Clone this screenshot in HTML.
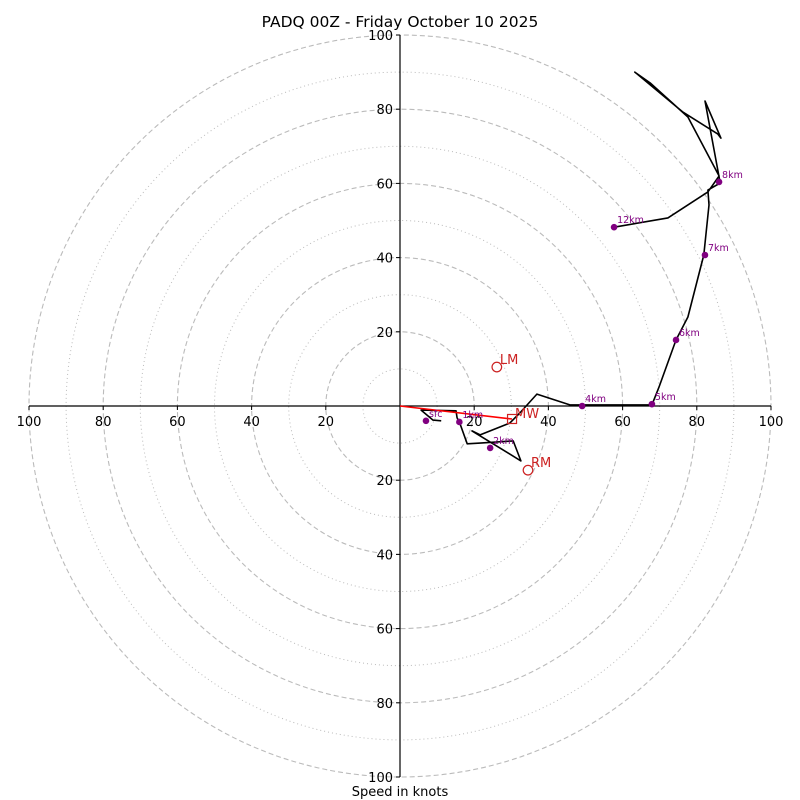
<!DOCTYPE html>
<html><head><meta charset="utf-8"><style>
body{margin:0;background:#fff}
svg{display:block;font-family:"DejaVu Sans","Liberation Sans",sans-serif}
</style></head><body>
<svg id="chart" width="800" height="800" viewBox="0 0 800 800">
<rect width="800" height="800" fill="#fff"/>
<text x="400" y="27" font-size="15.5" text-anchor="middle">PADQ 00Z - Friday October 10 2025</text>
<text x="400" y="796" font-size="13" text-anchor="middle">Speed in knots</text>
<g id="rings"></g><g id="axes"></g><g id="series"></g><g id="marks"></g>
</svg>
<script>
const ringValues=[10,20,30,40,50,60,70,80,90,100];
const tickValues=[20,40,60,80,100];
const pathU=[11.1,8.9,5.7,15.1,15.4,16.0,18.1,21.6,30.5,32.6,19.4,21.6,29.6,32.3,36.9,39.9,45.8,67.9,69.8,74.4,77.6,81.9,83.3,83.0,86.3,82.2,86.5,85.7,76.3,63.3,67.4,77.6,86.0,83.0,72.2,57.7];
const pathV=[-4.0,-3.8,-1.1,-1.3,-3.2,-4.3,-10.2,-10.0,-9.4,-14.8,-6.7,-7.8,-4.6,-1.9,3.2,2.2,0.3,0.3,5.1,17.8,24.0,40.7,54.2,58.2,60.1,82.2,72.2,73.3,79.2,90.0,87.1,77.9,62.0,57.7,50.7,48.2];
const levelLabels=["sfc","1km","2km","4km","5km","6km","7km","8km","12km"];
const levelU=[7.0,16.0,24.3,49.1,67.9,74.4,82.2,86.0,57.7];
const levelV=[-4.0,-4.3,-11.3,0,0.5,17.8,40.7,60.4,48.2];
const mwU=30.2, mwV=-3.5, lmU=26.1, lmV=10.5, rmU=34.5, rmV=-17.3;
const CX=400, CY=406, S=3.71;
const px=u=>CX+u*S, py=v=>CY-v*S;
const NS="http://www.w3.org/2000/svg";
function mk(tag,attrs,parent){const e=document.createElementNS(NS,tag);for(const k in attrs)e.setAttribute(k,attrs[k]);document.getElementById(parent).appendChild(e);return e;}
ringValues.forEach(r=>{
 const c=mk('circle',{cx:CX,cy:CY,r:r*S,fill:'none',stroke:'#bbb','stroke-width':r%20==0?1.1:1,'stroke-dasharray':r%20==0?'5,3':'1,3'},'rings');
 
 
});
let l=mk('line',{x1:px(-100),y1:CY,x2:px(100),y2:CY,stroke:'#000','stroke-width':1.2},'axes');


l=mk('line',{x1:CX,y1:py(100),x2:CX,y2:py(-100),stroke:'#000','stroke-width':1.2},'axes');


tickValues.forEach(t=>{
 [-1,1].forEach(s=>{
  mk('line',{x1:px(s*t),y1:CY,x2:px(s*t),y2:CY+4,stroke:'#000'},'axes');
  let tx=mk('text',{x:px(s*t),y:CY+20,'font-size':13,'text-anchor':'middle'},'axes');
  tx.textContent=t;
  
  
  mk('line',{x1:CX-4,y1:py(s*t),x2:CX,y2:py(s*t),stroke:'#000'},'axes');
  let ty=mk('text',{x:CX-7,y:py(s*t)+5,'font-size':13,'text-anchor':'end'},'axes');
  ty.textContent=t;
  
  
 });
});
let d=pathU.map((u,i)=>(i?'L':'M')+px(u).toFixed(1)+','+py(pathV[i]).toFixed(1)).join(' ');
let p=mk('path',{d:d,fill:'none',stroke:'#000','stroke-width':1.6,'stroke-linejoin':'round'},'series');


let ar=mk('line',{x1:CX,y1:CY,x2:px(mwU),y2:py(mwV),stroke:'red','stroke-width':1.6},'series');


levelLabels.forEach((lab,i)=>{
 let c=mk('circle',{cx:px(levelU[i]),cy:py(levelV[i]),r:3.3,fill:'purple'},'marks');
 
 
 let t=mk('text',{x:px(levelU[i])+3,y:py(levelV[i])-4,'font-size':9.5,fill:'purple'},'marks');
 t.textContent=lab;
 
 
});
let sq=mk('rect',{x:px(mwU)-4.5,y:py(mwV)-4.5,width:9,height:9,fill:'none',stroke:'#c22','stroke-width':1.2},'marks');


let mt=mk('text',{x:px(mwU)+3,y:py(mwV)-1,'font-size':13,fill:'#c22'},'marks');mt.textContent='MW';


[[lmU,lmV,'LM'],[rmU,rmV,'RM']].forEach(a=>{
 let c=mk('circle',{cx:px(a[0]),cy:py(a[1]),r:4.8,fill:'none',stroke:'#c22','stroke-width':1.2},'marks');
 
 
 let t=mk('text',{x:px(a[0])+3,y:py(a[1])-3,'font-size':13,fill:'#c22'},'marks');t.textContent=a[2];
 
 
});
</script>
</body></html>
